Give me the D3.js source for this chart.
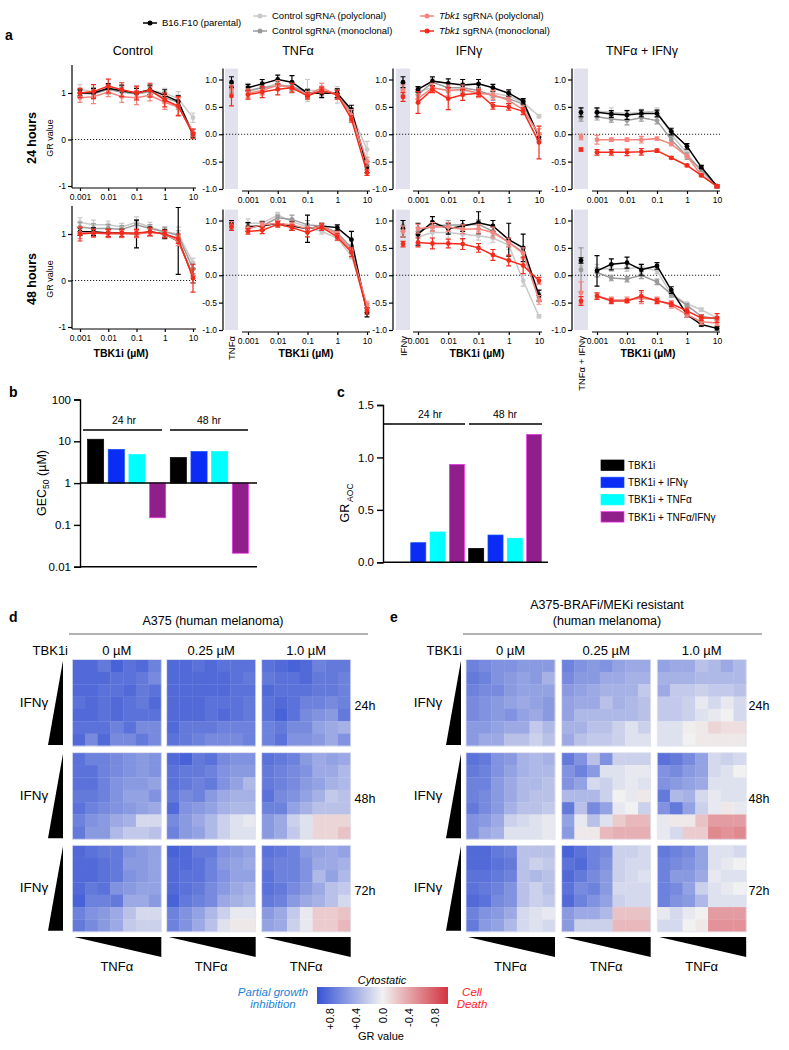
<!DOCTYPE html>
<html>
<head>
<meta charset="utf-8">
<script src="https://cdn.jsdelivr.net/npm/d3@7"></script>
<style>
body { margin: 0; background: #fff; }
svg { display: block; font-family: "Liberation Sans", Arial, sans-serif; }
</style>
</head>
<body>
<div id="fig"></div>
<script>
// ---- panel a data: GR values, first entry = no-TBK1i reference point ----
var doses = [0.001, 0.003, 0.01, 0.03, 0.1, 0.3, 1, 3, 10];
var doseTicks = [0.001, 0.01, 0.1, 1, 10];
var seriesNames = ["B16.F10 (parental)", "Control sgRNA (polyclonal)", "Control sgRNA (monoclonal)", "sgRNA (polyclonal)", "sgRNA (monoclonal)"];
var seriesColors = ["#000000", "#c9c9c9", "#9b9b9b", "#f5857d", "#f42b1c"];
var drawOrder = [1, 2, 0, 3, 4];
var panelTitles = ["Control", "TNFα", "IFNγ", "TNFα + IFNγ"];
var rowLabels = ["24 hours", "48 hours"];

// series order: parental, ctrl poly, ctrl mono, tbk1 poly, tbk1 mono
var gr24_ctrl = [
  [null, 1.0, 1.0, 1.1, 1.05, 1.0, 1.07, 0.95, 0.82, 0.1],
  [null, 1.08, 1.02, 1.07, 1.03, 1.0, 1.05, 1.0, 0.88, 0.47],
  [null, 1.0, 0.98, 1.08, 1.02, 0.98, 1.03, 0.9, 0.8, 0.15],
  [null, 0.9, 0.92, 1.02, 0.92, 0.9, 0.95, 0.8, 0.7, 0.15],
  [null, 1.0, 1.03, 1.15, 1.07, 1.0, 1.06, 0.85, 0.72, 0.12]
];
var err24_ctrl = [
  [null, .06, .1, .1, .12, .1, .1, .12, .12, .05],
  [null, .1, .1, .08, .12, .15, .1, .1, .15, .1],
  [null, .08, .1, .1, .1, .12, .1, .12, .15, .08],
  [null, .1, .15, .1, .12, .15, .12, .15, .2, .08],
  [null, .1, .15, .15, .15, .15, .15, .15, .2, .1]
];
var gr24_tnf = [
  [0.95, 0.85, 0.92, 1.0, 0.95, 0.75, 0.75, 0.75, 0.45, -0.6],
  [0.85, 0.78, 0.85, 0.92, 0.85, 0.8, 0.8, 0.72, 0.38, -0.28],
  [0.85, 0.8, 0.85, 0.88, 0.88, 0.75, 0.78, 0.75, 0.4, -0.55],
  [0.82, 0.75, 0.8, 0.9, 0.85, 0.72, 0.85, 0.72, 0.35, -0.5],
  [0.7, 0.72, 0.77, 0.82, 0.85, 0.7, 0.8, 0.72, 0.28, -0.7]
];
var err24_tnf = [
  [.1, .06, .08, .08, .12, .06, .08, .08, .08, .1],
  [.1, .15, .12, .08, .1, .2, .08, .15, .08, .15],
  [.08, .08, .08, .08, .08, .08, .08, .08, .08, .08],
  [.08, .08, .08, .08, .08, .06, .08, .08, .1, .08],
  [.18, .08, .1, .1, .08, .06, .06, .08, .06, .05]
];
var gr24_ifn = [
  [0.95, 0.82, 0.97, 0.93, 0.9, 0.92, 0.85, 0.75, 0.6, -0.05],
  [0.85, 0.78, 0.85, 0.8, 0.8, 0.75, 0.75, 0.7, 0.58, 0.33],
  [0.82, 0.72, 0.95, 0.85, 0.85, 0.8, 0.7, 0.65, 0.55, -0.05],
  [0.8, 0.65, 0.85, 0.8, 0.82, 0.75, 0.72, 0.62, 0.45, 0.0],
  [0.68, 0.58, 0.82, 0.65, 0.72, 0.75, 0.52, 0.5, 0.42, -0.15]
];
var err24_ifn = [
  [.1, .05, .08, .08, .1, .08, .06, .06, .05, .05],
  [.08, .08, .08, .06, .1, .06, .08, .06, .06, .03],
  [.1, .08, .08, .08, .08, .06, .08, .08, .06, .08],
  [.1, .08, .08, .1, .08, .08, .08, .06, .08, .1],
  [.08, .2, .06, .2, .1, .06, .06, .06, .06, .3]
];
var gr24_both = [
  [0.4, 0.4, 0.37, 0.35, 0.38, 0.38, 0.05, -0.22, -0.6, -0.95],
  [0.42, 0.42, 0.4, 0.38, 0.4, 0.42, 0.0, -0.35, -0.68, -0.95],
  [0.3, 0.32, 0.28, 0.25, 0.3, 0.25, -0.1, -0.4, -0.65, -0.95],
  [-0.05, -0.1, -0.1, -0.1, -0.1, -0.08, -0.18, -0.4, -0.75, -0.95],
  [-0.28, -0.33, -0.33, -0.33, -0.32, -0.3, -0.43, -0.57, -0.75, -0.95]
];
var err24_both = [
  [.08, .08, .06, .08, .06, .06, .06, .05, .03, .03],
  [.06, .05, .08, .06, .06, .06, .06, .05, .03, .03],
  [.06, .06, .06, .08, .06, .06, .06, .06, .03, .03],
  [.05, .08, .03, .03, .06, .03, .03, .03, .03, .03],
  [.03, .05, .05, .06, .06, .03, .02, .02, .02, .02]
];
var gr48_ctrl = [
  [null, 1.05, 1.05, 1.02, 1.02, 1.0, 1.05, 1.0, 0.85, 0.1],
  [null, 1.25, 1.2, 1.2, 1.15, 1.25, 1.15, 1.05, 1.0, 0.38],
  [null, 1.15, 1.12, 1.12, 1.1, 1.2, 1.12, 1.05, 0.97, 0.25],
  [null, 1.02, 1.02, 1.0, 1.0, 1.0, 1.03, 1.0, 0.85, 0.1],
  [null, 1.0, 1.02, 1.02, 1.02, 1.02, 1.05, 1.0, 0.9, 0.05]
];
var err48_ctrl = [
  [null, .08, .08, .08, .08, .3, .1, .1, .72, .15],
  [null, .1, .1, .08, .08, .12, .1, .1, .15, .1],
  [null, .1, .1, .08, .08, .1, .08, .1, .1, .1],
  [null, .12, .08, .08, .08, .08, .08, .08, .1, .15],
  [null, .15, .08, .08, .08, .08, .08, .08, .1, .3]
];
var gr48_tnf = [
  [0.95, 0.88, 0.9, 0.95, 0.9, 0.85, 0.9, 0.87, 0.65, -0.68],
  [0.9, 0.95, 0.95, 1.1, 0.98, 0.88, 0.8, 0.68, 0.35, -0.55],
  [0.92, 0.9, 0.9, 1.05, 1.02, 0.92, 0.9, 0.78, 0.5, -0.6],
  [0.9, 0.85, 0.92, 0.95, 0.92, 0.85, 0.9, 0.75, 0.45, -0.55],
  [0.88, 0.8, 0.82, 0.93, 0.87, 0.78, 0.88, 0.7, 0.42, -0.65]
];
var err48_tnf = [
  [.05, .08, .08, .05, .08, .25, .05, .05, .15, .08],
  [.08, .08, .05, .05, .05, .05, .05, .05, .05, .08],
  [.08, .06, .06, .05, .08, .08, .05, .05, .05, .08],
  [.08, .05, .05, .05, .05, .05, .05, .05, .05, .06],
  [.06, .05, .06, .05, .05, .08, .06, .06, .08, .06]
];
var gr48_ifn = [
  [0.85, 0.75, 0.97, 0.85, 0.9, 0.96, 0.9, 0.65, 0.5, -0.37],
  [0.85, 0.7, 0.78, 0.78, 0.75, 0.72, 0.68, 0.55, -0.1, -0.75],
  [0.9, 0.8, 0.9, 0.92, 0.92, 0.93, 0.8, 0.6, 0.42, -0.4],
  [0.8, 0.85, 0.88, 0.88, 0.84, 0.85, 0.78, 0.6, 0.4, -0.45],
  [0.57, 0.6, 0.58, 0.58, 0.57, 0.5, 0.37, 0.27, 0.18, -0.1]
];
var err48_ifn = [
  [.15, .2, .1, .1, .1, .2, .1, .3, .25, .1],
  [.1, .1, .1, .1, .1, .08, .08, .08, .1, .03],
  [.1, .08, .08, .08, .08, .08, .08, .08, .1, .08],
  [.1, .08, .08, .08, .08, .08, .1, .08, .1, .08],
  [.05, .08, .1, .08, .1, .08, .1, .1, .15, .06]
];
var gr48_both = [
  [0.27, 0.08, 0.2, 0.23, 0.1, 0.17, -0.27, -0.72, -0.9, -0.97],
  [0.12, 0.12, 0.12, 0.12, 0.15, 0.08, -0.35, -0.52, -0.63, -0.78],
  [0.1, 0.05, -0.05, -0.07, 0.0, -0.12, -0.35, -0.55, -0.75, -0.8],
  [-0.32, -0.38, -0.45, -0.45, -0.42, -0.45, -0.55, -0.72, -0.85, -0.87],
  [-0.47, -0.38, -0.47, -0.47, -0.38, -0.47, -0.52, -0.65, -0.78, -0.78]
];
var err48_both = [
  [.05, .28, .1, .1, .1, .06, .06, .05, .03, .03],
  [.05, .08, .05, .05, .05, .05, .05, .03, .03, .03],
  [.4, .08, .05, .05, .06, .05, .05, .03, .03, .03],
  [.2, .05, .05, .05, .1, .05, .05, .05, .05, .05],
  [.08, .06, .05, .03, .1, .05, .05, .05, .05, .08]
];

// ---- panel b / c data ----
var treatments = ["TBK1i", "TBK1i + IFNγ", "TBK1i + TNFα", "TBK1i + TNFα/IFNγ"];
var treatColors = ["#000000", "#0a2cf5", "#00ffff", "#901f8c"];
var timeGroups = ["24 hr", "48 hr"];
var gec50_24 = [11.2, 6.4, 4.8, 0.148];
var gec50_48 = [4.1, 5.7, 5.7, 0.021];
var aoc_24 = [0, 0.187, 0.289, 0.934];
var aoc_48 = [0.133, 0.26, 0.229, 1.22];

// ---- panel d / e data: 7x7 GR grids (rows: IFNγ low->high, cols: TNFα low->high) ----
var tbkConcs = ["0 µM", "0.25 µM", "1.0 µM"];
var timeLabels = ["24h", "48h", "72h"];
var a375_24h = [
  [[.85,.85,.75,.9,.8,.85,.7],[.85,.85,.85,.8,.8,.75,.65],[.85,.85,.8,.8,.85,.75,.8],[.8,.85,.8,.85,.8,.75,.85],[.85,.85,.8,.85,.8,.8,.8],[.8,.8,.8,.7,.8,.65,.65],[.85,.65,.85,.65,.65,.75,.65]],
  [[.85,.85,.8,.85,.8,.8,.8],[.85,.85,.85,.85,.85,.8,.75],[.85,.85,.85,.85,.85,.8,.8],[.85,.85,.85,.8,.8,.8,.75],[.85,.85,.85,.8,.85,.8,.75],[.85,.75,.75,.75,.7,.7,.7],[.8,.75,.7,.65,.65,.65,.7]],
  [[.8,.85,.9,.85,.7,.75,.75],[.75,.8,.8,.85,.75,.75,.7],[.85,.8,.8,.8,.75,.75,.7],[.8,.85,.8,.7,.7,.65,.7],[.8,.9,.8,.65,.6,.55,.75],[.7,.75,.65,.65,.5,.45,.4],[.7,.8,.6,.6,.55,.45,.6]]
];
var a375_48h = [
  [[.8,.7,.7,.65,.6,.55,.6],[.8,.8,.7,.65,.6,.55,.6],[.8,.8,.7,.6,.55,.55,.5],[.75,.75,.7,.6,.5,.5,.6],[.8,.7,.65,.6,.55,.5,.45],[.7,.6,.55,.45,.4,.15,.15],[.75,.55,.55,.35,.25,.25,.3]],
  [[.85,.9,.75,.8,.65,.6,.6],[.8,.75,.75,.7,.6,.55,.55],[.8,.75,.7,.75,.6,.5,.35],[.75,.65,.7,.55,.45,.4,.4],[.85,.6,.55,.5,.4,.35,.35],[.65,.55,.45,.35,.2,.1,.05],[.7,.55,.5,.35,.2,.1,.1]],
  [[.8,.75,.7,.55,.45,.5,.45],[.75,.7,.65,.6,.45,.45,.35],[.75,.7,.65,.55,.5,.4,.35],[.8,.65,.6,.5,.4,.25,.3],[.7,.7,.5,.4,.3,.3,.3],[.55,.45,.2,.1,-.15,-.15,-.15],[.55,.45,.25,.1,-.15,-.15,-.25]]
];
var a375_72h = [
  [[.85,.8,.75,.75,.6,.55,.5],[.85,.85,.8,.75,.55,.55,.5],[.85,.85,.8,.75,.6,.55,.5],[.85,.75,.8,.6,.55,.5,.5],[.9,.7,.7,.75,.45,.45,.55],[.7,.6,.55,.45,.3,.15,.15],[.75,.65,.55,.45,.25,.2,.2]],
  [[.9,.85,.75,.75,.6,.55,.5],[.85,.85,.8,.7,.55,.5,.45],[.85,.8,.8,.7,.6,.5,.5],[.85,.8,.75,.65,.55,.45,.4],[.9,.75,.7,.65,.45,.4,.35],[.7,.6,.5,.35,.2,.05,.05],[.7,.6,.45,.3,.1,-.05,-.05]],
  [[.8,.75,.7,.55,.5,.45,.5],[.75,.7,.7,.6,.45,.45,.4],[.8,.7,.7,.6,.35,.5,.35],[.8,.75,.65,.55,.45,.3,.25],[.75,.7,.55,.45,.4,.3,.15],[.55,.45,.25,.05,-.2,-.2,-.25],[.5,.45,.2,.05,-.2,-.2,-.3]]
];
var res_24h = [
  [[.7,.65,.6,.6,.55,.55,.55],[.75,.7,.6,.55,.5,.55,.4],[.7,.65,.65,.55,.5,.5,.5],[.65,.6,.55,.5,.45,.5,.55],[.65,.6,.55,.6,.5,.45,.55],[.55,.55,.5,.45,.45,.25,.35],[.55,.45,.45,.3,.3,.2,.3]],
  [[.7,.6,.55,.6,.5,.45,.45],[.65,.55,.55,.45,.45,.4,.4],[.55,.5,.45,.4,.4,.4,.25],[.5,.45,.45,.3,.4,.35,.3],[.5,.35,.35,.35,.35,.35,.3],[.4,.4,.3,.3,.2,.1,.2],[.45,.3,.25,.25,.2,.1,.1]],
  [[.5,.45,.45,.3,.35,.45,.35],[.4,.4,.4,.35,.35,.35,.35],[.45,.25,.25,.2,.25,.25,.3],[.25,.25,.2,.05,.15,.05,.15],[.25,.25,.2,.1,.05,0,.15],[.1,.1,-.02,-.05,-.15,-.1,-.1],[.1,.1,0,-.05,-.05,-.05,-.05]]
];
var res_48h = [
  [[.8,.75,.6,.55,.4,.35,.4],[.75,.7,.6,.5,.4,.35,.35],[.7,.7,.55,.45,.35,.35,.3],[.7,.65,.55,.45,.35,.3,.3],[.75,.65,.55,.4,.3,.3,.25],[.6,.55,.45,.2,.15,.1,.05],[.6,.45,.4,.1,.1,.1,.05]],
  [[.75,.6,.3,.6,.2,.2,.2],[.6,.7,.55,.1,.1,.05,.05],[.6,.5,.15,.2,.1,.05,.1],[.35,.35,.35,.2,0,.05,-.05],[.75,.3,.65,.5,.05,0,.2],[.5,.05,.3,.1,-.2,-.3,-.3],[.55,-.05,-.05,-.3,-.35,-.35,-.35]],
  [[.8,.75,.65,.5,.15,.2,.15],[.6,.65,.55,.5,.15,.1,0],[.6,.55,.5,.45,.1,.1,.1],[.75,.35,.4,.15,.05,.1,.1],[.6,.75,.5,.2,.05,-.05,.05],[.05,-.05,-.05,-.25,-.45,-.45,-.45],[.05,.15,-.2,-.2,-.55,-.5,-.55]]
];
var res_72h = [
  [[.85,.85,.75,.7,.3,.3,.3],[.85,.85,.8,.75,.3,.2,.25],[.8,.8,.75,.7,.3,.35,.3],[.8,.75,.7,.6,.3,.2,.3],[.85,.8,.65,.6,.3,.2,.25],[.7,.6,.55,.45,.15,.1,.05],[.75,.55,.5,.35,.15,.1,.15]],
  [[.9,.8,.7,.65,.2,.2,.15],[.8,.85,.7,.6,.2,.15,.15],[.85,.75,.65,.55,.2,.15,.1],[.8,.65,.7,.55,.15,.15,.15],[.85,.7,.6,.5,.2,.15,.15],[.55,.45,.45,.35,-.25,-.25,-.25],[.55,.2,.2,.2,-.3,-.3,-.3]],
  [[.75,.7,.65,.5,.1,.1,.15],[.7,.65,.6,.5,.1,.05,0],[.7,.55,.55,.45,.05,.1,.1],[.7,.65,.5,.2,.1,.05,0],[.7,.6,.55,.35,.1,.1,.1],[.05,.15,.05,0,-.45,-.45,-.45],[.15,.15,0,-.05,-.5,-.5,-.5]]
];
var colorbarTicks = [0.8, 0.4, 0, -0.4, -0.8];

// ---------------------------------------------------------------
var svg = d3.select("#fig").append("svg")
    .attr("width", 789)
    .attr("height", 1050);

function txt(x, y, s, size, opts) {
    opts = opts || {};
    var t = svg.append("text")
        .attr("x", x).attr("y", y)
        .attr("font-size", size)
        .attr("text-anchor", opts.anchor || "middle")
        .attr("fill", opts.fill || "#000")
        .text(s);
    if (opts.bold) t.attr("font-weight", "bold");
    if (opts.italic) t.attr("font-style", "italic");
    if (opts.rotate) t.attr("transform", "rotate(-90," + x + "," + y + ")");
    return t;
}

// panel letters
txt(5, 40, "a", 14, { bold: true, anchor: "start" });
txt(9, 397, "b", 14, { bold: true, anchor: "start" });
txt(337, 397, "c", 14, { bold: true, anchor: "start" });
txt(9, 622, "d", 14, { bold: true, anchor: "start" });
txt(390, 622, "e", 14, { bold: true, anchor: "start" });

// ---- top legend ----
var legendPos = [[150, 23], [260, 16], [260, 31], [427, 16], [427, 31]];
seriesNames.forEach(function(name, i) {
    var p = legendPos[i];
    svg.append("line").attr("x1", p[0] - 7).attr("x2", p[0] + 7)
        .attr("y1", p[1]).attr("y2", p[1])
        .attr("stroke", seriesColors[i]).attr("stroke-width", 1.5);
    svg.append("circle").attr("cx", p[0]).attr("cy", p[1]).attr("r", 2.5).attr("fill", seriesColors[i]);
    var t = txt(p[0] + 12, p[1] + 3.3, "", 9.5, { anchor: "start" });
    if (i >= 3) {
        t.append("tspan").attr("font-style", "italic").text("Tbk1");
        t.append("tspan").text(" " + name);
    } else {
        t.text(name);
    }
});

// ---- panel a ----
var panelGeom = [
    { yx: 72, shade: null, ax0: 72, p0: 80, p1: 193, ax1: 196, ctrl: true, tcx: 133, xlab: 121 },
    { yx: 223, shade: [225, 238], ax0: 242, p0: 248, p1: 367, ax1: 370, tcx: 298, xlab: 306 },
    { yx: 393, shade: [396, 410], ax0: 413, p0: 418, p1: 539, ax1: 542, tcx: 469, xlab: 477 },
    { yx: 572, shade: [574, 588], ax0: 592, p0: 597, p1: 717, ax1: 720, tcx: 642, xlab: 648 }
];
var rows = [
    { off: 0, vals: [gr24_ctrl, gr24_tnf, gr24_ifn, gr24_both], errs: [err24_ctrl, err24_tnf, err24_ifn, err24_both] },
    { off: 141, vals: [gr48_ctrl, gr48_tnf, gr48_ifn, gr48_both], errs: [err48_ctrl, err48_tnf, err48_ifn, err48_both] }
];

panelGeom.forEach(function(g, pi) {
    txt(g.tcx, 55, panelTitles[pi], 12.5);
});

rows.forEach(function(row, ri) {
    var off = row.off;
    txt(36, 138 + off, rowLabels[ri], 12.5, { bold: true, rotate: true });
    txt(53, 138 + off, "GR value", 9, { rotate: true });

    panelGeom.forEach(function(g, pi) {
        var y = g.ctrl
            ? d3.scaleLinear().domain([-1, 1]).range([186 + off, 93 + off])
            : d3.scaleLinear().domain([-1, 1]).range([189 + off, 79.5 + off]);
        var yTop = y(g.ctrl ? 1.6 : 1.2);
        var yAxisBot = y(-1) + 2;
        var x = d3.scaleLog().domain([0.001, 10]).range([g.p0, g.p1]);
        var gp = svg.append("g");

        if (g.shade) {
            gp.append("rect")
                .attr("x", g.shade[0]).attr("y", yTop)
                .attr("width", g.shade[1] - g.shade[0])
                .attr("height", y(-1) - yTop)
                .attr("fill", "#e2e2ee");
        }
        // dotted zero line
        gp.append("line")
            .attr("x1", g.yx).attr("x2", g.ax1)
            .attr("y1", y(0)).attr("y2", y(0))
            .attr("stroke", "#222").attr("stroke-width", 1)
            .attr("stroke-dasharray", "1.2,1.8");

        // y axis
        var ya = gp.append("g")
            .attr("transform", "translate(" + g.yx + ",0)")
            .call(d3.axisLeft(y)
                .tickValues(g.ctrl ? [-1, 0, 1] : [-1, -0.5, 0, 0.5, 1])
                .tickFormat(function(d) { return g.ctrl ? String(d) : d.toFixed(1); })
                .tickSize(4).tickPadding(2));
        ya.select(".domain").attr("d", "M0," + yTop + "V" + (g.ctrl ? yAxisBot : y(-1)));

        // x axis
        var xa = gp.append("g")
            .attr("transform", "translate(0," + yAxisBot + ")")
            .call(d3.axisBottom(x)
                .tickValues(doseTicks)
                .tickFormat(function(d) { return String(d); })
                .tickSize(3).tickPadding(3));
        xa.select(".domain").attr("d", "M" + g.ax0 + ",0H" + g.ax1);

        [ya, xa].forEach(function(a) {
            a.attr("font-size", 8.5).attr("font-family", null);
            a.selectAll("path,line").attr("stroke", "#000").attr("stroke-width", 1.2);
            a.selectAll("text").attr("fill", "#000");
        });

        if (ri === 1) {
            txt(g.xlab, 357, "TBK1i (µM)", 10.5, { bold: true });
            if (g.shade) {
                var cx = (g.shade[0] + g.shade[1]) / 2 + 3.5;
                txt(cx, 336, panelTitles[pi], 9.5, { rotate: true, anchor: "end" });
            }
        }

        // series
        var vals = row.vals[pi], errs = row.errs[pi];
        var line = d3.line().x(function(d) { return d.x; }).y(function(d) { return y(d.v); });
        drawOrder.forEach(function(s) {
            var col = seriesColors[s];
            var pts = doses.map(function(d, i) {
                return { x: x(d), v: vals[s][i + 1], e: errs[s][i + 1] };
            });
            if (vals[s][0] !== null && g.shade) {
                pts.unshift({ x: (g.shade[0] + g.shade[1]) / 2, v: vals[s][0], e: errs[s][0], base: true });
            }
            var sg = gp.append("g");
            sg.append("path")
                .datum(pts.filter(function(p) { return !p.base; }))
                .attr("d", line)
                .attr("fill", "none").attr("stroke", col).attr("stroke-width", 1.5);
            pts.forEach(function(p) {
                var y1 = y(p.v - p.e), y2 = y(p.v + p.e);
                sg.append("path")
                    .attr("d", "M" + p.x + "," + y1 + "V" + y2 +
                        "M" + (p.x - 2.5) + "," + y1 + "H" + (p.x + 2.5) +
                        "M" + (p.x - 2.5) + "," + y2 + "H" + (p.x + 2.5))
                    .attr("stroke", col).attr("stroke-width", 1.2).attr("fill", "none");
                sg.append("circle").attr("cx", p.x).attr("cy", y(p.v)).attr("r", 2.4).attr("fill", col);
            });
        });
    });
});

// ---- panel b: GEC50 ----
var bx = d3.scaleBand().domain(d3.range(8)).range([83, 253]).paddingInner(0.22).paddingOuter(0.22);
var by = d3.scaleLog().domain([0.01, 100]).range([566.7, 399.5]);
var gecAll = gec50_24.concat(gec50_48);
svg.append("g").selectAll("rect")
    .data(gecAll)
    .enter().append("rect")
    .attr("x", function(d, i) { return bx(i); })
    .attr("width", bx.bandwidth())
    .attr("y", function(d) { return Math.min(by(d), by(1)); })
    .attr("height", function(d) { return Math.abs(by(d) - by(1)); })
    .attr("fill", function(d, i) { return treatColors[i % 4]; })
    .attr("stroke", function(d, i) { return d3.color(treatColors[i % 4]).brighter(1.5); })
    .attr("stroke-width", 0.7);
var bAxis = svg.append("g").attr("transform", "translate(80,0)")
    .call(d3.axisLeft(by).tickValues([0.01, 0.1, 1, 10, 100])
        .tickFormat(function(d) { return String(d); }).tickSize(6).tickPadding(3));
bAxis.attr("font-size", 11.5).attr("font-family", null);
bAxis.selectAll("path,line").attr("stroke", "#000").attr("stroke-width", 1.4);
bAxis.selectAll("text").attr("fill", "#000");
[1, 0.01].forEach(function(v) {
    svg.append("line").attr("x1", 80).attr("x2", 257).attr("y1", by(v)).attr("y2", by(v))
        .attr("stroke", "#000").attr("stroke-width", 1.5);
});
svg.append("line").attr("x1", 83).attr("x2", 162).attr("y1", 430).attr("y2", 430).attr("stroke", "#000").attr("stroke-width", 1.3);
svg.append("line").attr("x1", 170).attr("x2", 248).attr("y1", 430).attr("y2", 430).attr("stroke", "#000").attr("stroke-width", 1.3);
txt(124, 424, timeGroups[0], 10.5);
txt(209, 424, timeGroups[1], 10.5);
var gl = txt(46, 483, "", 12.5, { rotate: true });
gl.append("tspan").text("GEC");
gl.append("tspan").attr("font-size", 8.5).attr("dy", 3).text("50");
gl.append("tspan").attr("dy", -3).text(" (µM)");

// ---- panel c: GR AOC ----
var cx = d3.scaleBand().domain(d3.range(8)).range([387.2, 545.9]).paddingInner(0.22).paddingOuter(0.22);
var cy = d3.scaleLinear().domain([0, 1.5]).range([562.3, 405]);
var aocAll = aoc_24.concat(aoc_48);
svg.append("g").selectAll("rect")
    .data(aocAll)
    .enter().append("rect")
    .attr("x", function(d, i) { return cx(i); })
    .attr("width", cx.bandwidth())
    .attr("y", function(d) { return cy(d); })
    .attr("height", function(d) { return cy(0) - cy(d); })
    .attr("fill", function(d, i) { return treatColors[i % 4]; })
    .attr("stroke", function(d, i) { return d3.color(treatColors[i % 4]).brighter(1.5); })
    .attr("stroke-width", 0.7);
var cAxis = svg.append("g").attr("transform", "translate(383,0)")
    .call(d3.axisLeft(cy).tickValues([0, 0.5, 1, 1.5])
        .tickFormat(function(d) { return d.toFixed(1); }).tickSize(6).tickPadding(3));
cAxis.attr("font-size", 11.5).attr("font-family", null);
cAxis.selectAll("path,line").attr("stroke", "#000").attr("stroke-width", 1.4);
cAxis.selectAll("text").attr("fill", "#000");
svg.append("line").attr("x1", 383).attr("x2", 548).attr("y1", cy(0)).attr("y2", cy(0)).attr("stroke", "#000").attr("stroke-width", 1.5);
svg.append("line").attr("x1", 383).attr("x2", 465).attr("y1", 424).attr("y2", 424).attr("stroke", "#000").attr("stroke-width", 1.3);
svg.append("line").attr("x1", 469).attr("x2", 542).attr("y1", 424).attr("y2", 424).attr("stroke", "#000").attr("stroke-width", 1.3);
txt(430, 418, timeGroups[0], 10.5);
txt(505, 418, timeGroups[1], 10.5);
var al = txt(349, 503, "", 12.5, { rotate: true });
al.append("tspan").text("GR");
al.append("tspan").attr("font-size", 8.5).attr("dy", 4).text(" AOC");

// legend for b / c
treatments.forEach(function(name, i) {
    var yy = 460 + i * 17.2;
    svg.append("rect").attr("x", 601).attr("y", yy).attr("width", 23).attr("height", 10.5)
        .attr("fill", treatColors[i])
        .attr("stroke", d3.color(treatColors[i]).brighter(1.5)).attr("stroke-width", 0.7);
    txt(628, yy + 9, name, 10, { anchor: "start" });
});

// ---- panels d / e: heatmaps ----
var grColor = d3.scaleLinear()
    .domain([1, 0, -1])
    .range(["#3552d4", "#f1f1f1", "#d2333f"])
    .clamp(true);

var heatRowsY = [659.5, 752.7, 845.3];
var heatW = 89, heatH = 86.5;

function drawHeatPanel(cfg) {
    txt(cfg.titleX, cfg.titleY[0], cfg.title[0], 12.5);
    if (cfg.title[1]) txt(cfg.titleX, cfg.titleY[1], cfg.title[1], 12.5);
    svg.append("line").attr("x1", cfg.lineX[0]).attr("x2", cfg.lineX[1])
        .attr("y1", 634).attr("y2", 634).attr("stroke", "#666").attr("stroke-width", 1);
    txt(cfg.tbkX, 655, "TBK1i", 13, { anchor: "end" });
    tbkConcs.forEach(function(c, k) {
        txt(cfg.xs[k] + heatW / 2, 655, c, 13);
    });
    cfg.data.forEach(function(rowGrids, ri) {
        var y0 = heatRowsY[ri];
        // IFNγ triangle
        svg.append("path")
            .attr("d", "M" + cfg.triR + "," + (y0 + 1) + "L" + cfg.triR + "," + (y0 + heatH - 1) +
                "L" + (cfg.triR - 15) + "," + (y0 + heatH - 1) + "Z")
            .attr("fill", "#000");
        txt(cfg.ifnX, y0 + 47, "IFNγ", 13.5);
        txt(cfg.timeX, y0 + 50, timeLabels[ri], 12.5);
        rowGrids.forEach(function(grid, k) {
            var x0 = cfg.xs[k];
            var hx = d3.scaleBand().domain(d3.range(7)).range([x0, x0 + heatW]);
            var hy = d3.scaleBand().domain(d3.range(7)).range([y0, y0 + heatH]);
            var hg = svg.append("g");
            grid.forEach(function(r, i) {
                r.forEach(function(v, j) {
                    hg.append("rect")
                        .attr("x", hx(j)).attr("y", hy(i))
                        .attr("width", hx.bandwidth() + 0.3).attr("height", hy.bandwidth() + 0.3)
                        .attr("fill", grColor(v));
                });
            });
            hg.append("rect").attr("x", x0).attr("y", y0).attr("width", heatW).attr("height", heatH)
                .attr("fill", "none").attr("stroke", "#e4e6f0").attr("stroke-width", 0.8);
        });
    });
    // TNFα triangles
    cfg.xs.forEach(function(x0) {
        svg.append("path")
            .attr("d", "M" + (x0 + 2) + ",937L" + (x0 + heatW) + ",937L" + (x0 + heatW) + ",957Z")
            .attr("fill", "#000");
        txt(x0 + heatW / 2, 971, "TNFα", 13);
    });
}

drawHeatPanel({
    title: ["A375 (human melanoma)"], titleX: 213, titleY: [625],
    lineX: [69, 368], tbkX: 68, xs: [72.3, 166.7, 261.7],
    triR: 63, ifnX: 34, timeX: 365,
    data: [a375_24h, a375_48h, a375_72h]
});
drawHeatPanel({
    title: ["A375-BRAFi/MEKi resistant", "(human melanoma)"], titleX: 607, titleY: [609, 625],
    lineX: [463, 762], tbkX: 462, xs: [466, 561.7, 657.2],
    triR: 461, ifnX: 428, timeX: 759,
    data: [res_24h, res_48h, res_72h]
});

// ---- colour bar ----
var cbx = d3.scaleLinear().domain([1, -1]).range([317, 448]);
var grad = svg.append("defs").append("linearGradient").attr("id", "grgrad")
    .attr("x1", "0%").attr("x2", "100%").attr("y1", "0%").attr("y2", "0%");
d3.range(0, 1.0001, 0.1).forEach(function(t) {
    grad.append("stop").attr("offset", (t * 100) + "%").attr("stop-color", grColor(1 - 2 * t));
});
svg.append("rect").attr("x", 317).attr("y", 987).attr("width", 131).attr("height", 17)
    .attr("fill", "url(#grgrad)");
colorbarTicks.forEach(function(v) {
    var s = v > 0 ? "+" + v.toFixed(1) : v.toFixed(1);
    txt(cbx(v) + 4, 1008, s, 11, { rotate: true, anchor: "end" });
});
txt(381, 1040, "GR value", 11);
txt(382, 984, "Cytostatic", 11, { italic: true });
txt(273, 996, "Partial  growth", 11.5, { italic: true, fill: "#1a7fd6" });
txt(273, 1008, "inhibition", 11.5, { italic: true, fill: "#1a7fd6" });
txt(472, 996, "Cell", 11.5, { italic: true, fill: "#ff1a1a" });
txt(472, 1008, "Death", 11.5, { italic: true, fill: "#ff1a1a" });
</script>
</body>
</html>
